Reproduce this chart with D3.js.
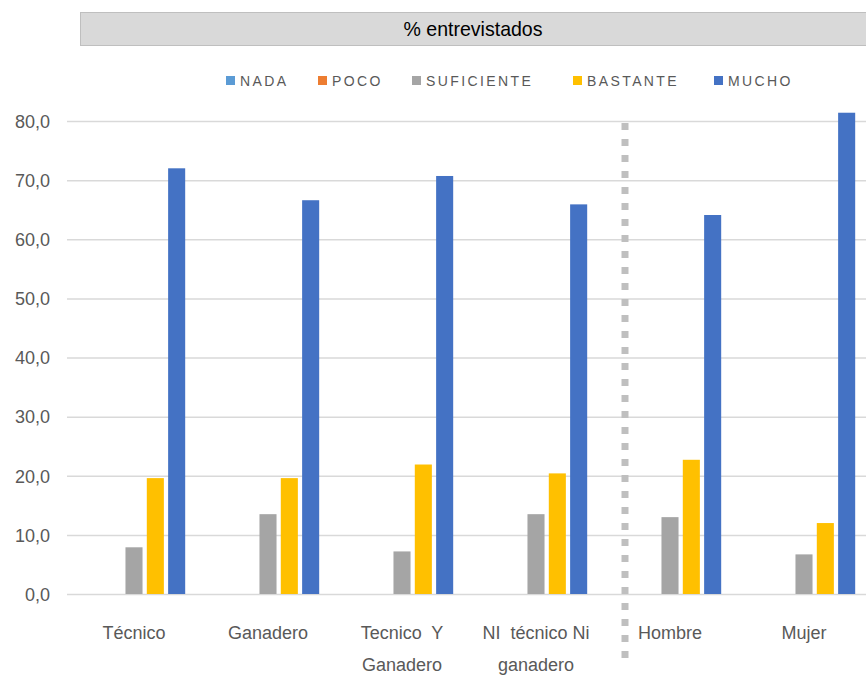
<!DOCTYPE html>
<html><head><meta charset="utf-8">
<script src="https://cdn.jsdelivr.net/npm/d3@7"></script>
<style>body{margin:0;background:#fff}svg{display:block}text{white-space:pre}</style>
</head><body>
<svg id="chart" width="866" height="677"></svg>
<script>
const categories = ["Técnico", "Ganadero", "Tecnico  Y|Ganadero", "NI  técnico Ni|ganadero", "Hombre", "Mujer"];
const seriesNames = ["NADA", "POCO", "SUFICIENTE", "BASTANTE", "MUCHO"];
const nada = [0, 0, 0, 0, 0, 0];
const poco = [0, 0, 0, 0, 0, 0];
const suficiente = [7.9, 13.5, 7.2, 13.5, 13.0, 6.7];
const bastante = [19.6, 19.6, 21.9, 20.4, 22.7, 12.0];
const mucho = [72.0, 66.6, 70.7, 65.9, 64.1, 81.4];
const yTicks = [0, 10, 20, 30, 40, 50, 60, 70, 80];
const colors = ["#5B9BD5", "#ED7D31", "#A5A5A5", "#FFC000", "#4472C4"];
const title = "% entrevistados";

const seriesValues = [nada, poco, suficiente, bastante, mucho];
const svg = d3.select("#chart");
const mLeft = 67, mRight = 871, mTop = 121, mBottom = 594;

const y = d3.scaleLinear().domain([0, 80]).range([mBottom, mTop]);
const x0 = d3.scaleBand().domain(categories).range([mLeft, mRight]).padding(0);
const step = x0.step();
const x1 = d3.scaleBand().domain(seriesNames).range([step * 0.118, step * 0.882]).paddingInner(0.2).paddingOuter(0);

// title box
svg.append("rect").attr("x", 80.5).attr("y", 12.5).attr("width", 800).attr("height", 33)
  .attr("fill", "#d9d9d9").attr("stroke", "#bfbfbf").attr("stroke-width", 1);
svg.append("text").attr("x", 473).attr("y", 36).attr("text-anchor", "middle")
  .attr("font-family", "'Liberation Sans Narrow', 'Liberation Sans', Arial, sans-serif")
  .attr("font-size", 21).attr("fill", "#000")
  .attr("textLength", 139).attr("lengthAdjust", "spacingAndGlyphs")
  .text(title);

// legend
const legendX = [226, 318, 412, 573, 714];
const lg = svg.append("g");
seriesNames.forEach((s, i) => {
  lg.append("rect").attr("x", legendX[i]).attr("y", 76).attr("width", 9).attr("height", 9).attr("fill", colors[i]);
  lg.append("text").attr("x", legendX[i] + 14).attr("y", 85.5)
    .attr("font-family", "'Liberation Sans', Arial, sans-serif").attr("font-size", 14)
    .attr("letter-spacing", 2.4).attr("fill", "#595959").text(s);
});

// gridlines
const yAxis = d3.axisLeft(y).tickValues(yTicks).tickSize(-(866 - mLeft)).tickFormat(d => d3.format(".1f")(d).replace(".", ","));
const ga = svg.append("g").attr("transform", `translate(${mLeft},0)`).call(yAxis);
ga.select(".domain").remove();
ga.selectAll(".tick line").attr("stroke", "#d9d9d9").attr("stroke-width", 1.5);
ga.selectAll(".tick text").attr("x", -17).attr("dy", "0.35em")
  .attr("font-family", "'Liberation Sans', Arial, sans-serif").attr("font-size", 18).attr("fill", "#595959");

// bars
const groups = svg.append("g").selectAll("g").data(categories).join("g")
  .attr("transform", d => `translate(${x0(d)},0)`);
groups.selectAll("rect").data((d, ci) => seriesNames.map((s, si) => ({s, v: seriesValues[si][ci], c: colors[si]})))
  .join("rect")
  .attr("x", d => x1(d.s)).attr("width", x1.bandwidth())
  .attr("y", d => y(d.v)).attr("height", d => y(0) - y(d.v))
  .attr("fill", d => d.c);

// divider
const divX = x0(categories[4]) + 22;
svg.append("line").attr("x1", divX).attr("x2", divX).attr("y1", 123).attr("y2", 660)
  .attr("stroke", "#bfbfbf").attr("stroke-width", 7).attr("stroke-dasharray", "7,9");

// category labels
const xl = svg.append("g");
categories.forEach(c => {
  const lines = c.split("|");
  const cx = x0(c) + step / 2;
  lines.forEach((l, i) => {
    xl.append("text").attr("x", cx).attr("y", 639 + i * 32).attr("text-anchor", "middle")
      .attr("font-family", "'Liberation Sans', Arial, sans-serif").attr("font-size", 18)
      .attr("fill", "#595959").text(l);
  });
});
</script>
</body></html>
